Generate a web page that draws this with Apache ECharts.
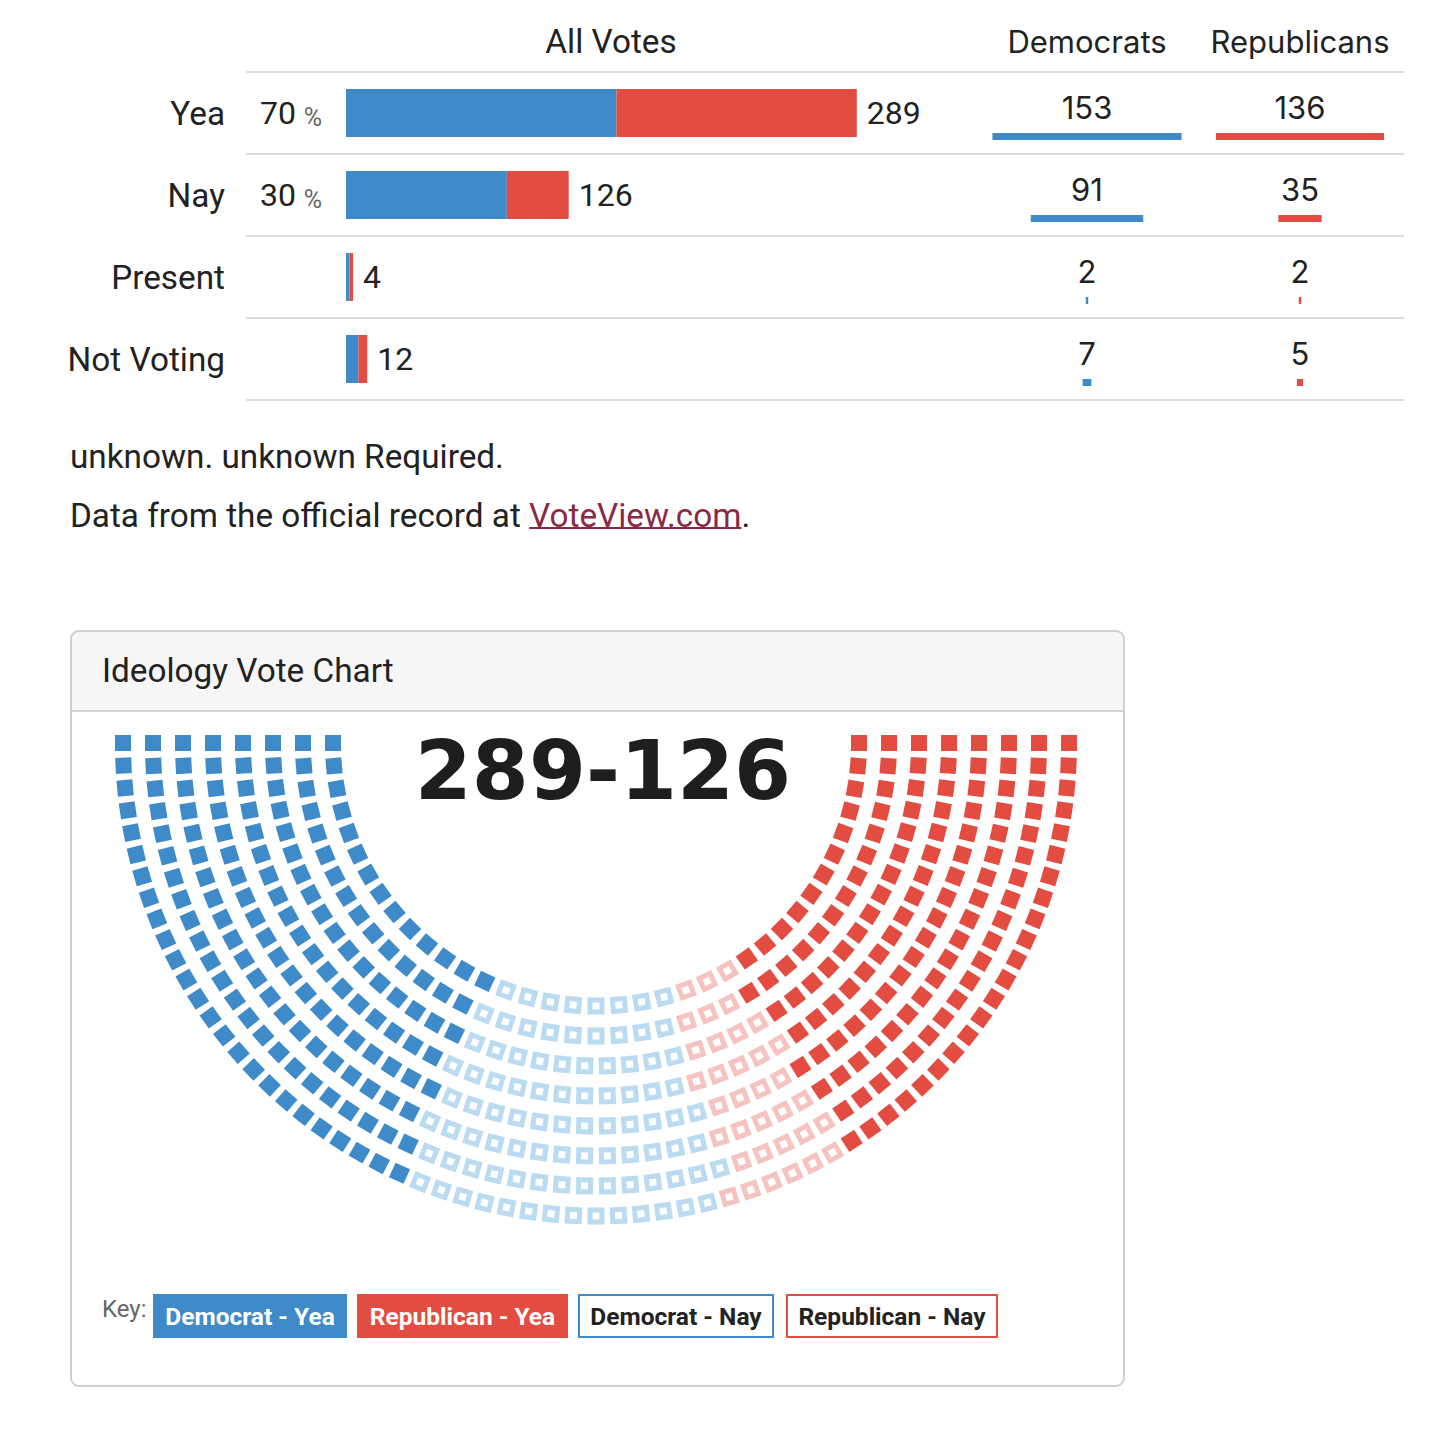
<!DOCTYPE html>
<html>
<head>
<meta charset="utf-8">
<title>Roll call</title>
<script src="https://cdn.jsdelivr.net/npm/echarts@6/dist/echarts.min.js"></script>
<style>
  html, body { margin: 0; padding: 0; background: #fff; }
  #page { width: 1452px; height: 1438px; }
</style>
</head>
<body>
<div id="page"></div>
<script>
// vote table
const rowNames = ['Yea', 'Nay', 'Present', 'Not Voting']
const demVotes = [153, 91, 2, 7]
const repVotes = [136, 35, 2, 5]
const totalVotes = [289, 126, 4, 12]
const pctLabels = ['70', '30', '', '']

// ideology chart
const seatGroups = ['Democrat - Yea', 'Democrat - Nay', 'Republican - Nay', 'Republican - Yea']
const seatCounts = [153, 91, 35, 136]
const scoreText = '289-126'

const BLUE = '#3f8bc9'
const RED = '#e34c41'
const LIGHT_BLUE = '#badbf0'
const LIGHT_RED = '#f5c4c0'
const INK = '#222'
const BODY_FONT = 'Roboto'
const BODY_SIZE = 33.3

const chart = echarts.init(document.getElementById('page'), null, { renderer: 'svg' })

// text width helper, so the link and the full stop follow the sentence
const measureCtx = document.createElement('canvas').getContext('2d')
const textWidth = (s, size, family) => {
  measureCtx.font = `${size}px ${family}`
  return measureCtx.measureText(s).width
}

// seat layout: 8 rows, seats per row proportional to radius, then sorted by angle
const rowRadii = []
for (let i = 0; i < 8; i++) rowRadii.push(263 + 30 * i)

const buildSeats = () => {
  const total = seatCounts.reduce((a, b) => a + b, 0)
  const rSum = rowRadii.reduce((a, b) => a + b, 0)
  const raw = rowRadii.map(r => total * r / rSum)
  const perRow = raw.map(Math.floor)
  let left = total - perRow.reduce((a, b) => a + b, 0)
  raw.map((v, i) => [v - Math.floor(v), i])
    .sort((a, b) => b[0] - a[0])
    .forEach(([, i]) => { if (left > 0) { perRow[i]++; left-- } })

  const seats = []
  rowRadii.forEach((r, row) => {
    const n = perRow[row]
    for (let j = 0; j < n; j++) seats.push({ r, a: 180 * j / (n - 1), row })
  })
  seats.sort((p, q) => p.a - q.a || p.row - q.row)

  // hand out seats group by group
  const groups = seatCounts.map(() => [])
  let g = 0, used = 0
  seats.forEach(s => {
    while (used >= seatCounts[g]) { g++; used = 0 }
    groups[g].push({ value: [s.r, s.a], symbolRotate: s.a })
    used++
  })
  return groups
}
const seatData = buildSeats()

const seatStyles = [
  { color: BLUE },
  { color: '#fff', borderColor: LIGHT_BLUE, borderWidth: 5 },
  { color: '#fff', borderColor: LIGHT_RED, borderWidth: 5 },
  { color: RED }
]

// centred party bars with the count above them
const partyItem = (color) => (params, api) => {
  const v = api.value(0)
  const c = api.coord([0, api.value(1)])
  const w = api.size([v, 0])[0]
  return {
    type: 'group',
    children: [
      { type: 'rect', shape: { x: c[0] - w / 2, y: c[1] + 20, width: w, height: 7 }, style: { fill: color } },
      {
        type: 'text',
        style: {
          text: String(v), x: c[0], y: c[1] - 6,
          align: 'center', verticalAlign: 'middle',
          fontSize: 31, fontFamily: 'Inter', fill: INK
        }
      }
    ]
  }
}

const hidden = { show: false }
const catAxis = (gridIndex) => ({
  type: 'category', gridIndex, inverse: true, data: rowNames,
  axisLine: hidden, axisTick: hidden, axisLabel: hidden, splitLine: hidden
})

const rowLines = [72, 154, 236, 318, 400].map(y => ({
  type: 'line', shape: { x1: 246, y1: y, x2: 1404, y2: y },
  style: { stroke: '#dddddd', lineWidth: 2 }
}))

const txt = (text, x, y, opts) => ({
  type: 'text', x, y,
  style: Object.assign({
    text, fill: INK, fontSize: BODY_SIZE, fontFamily: BODY_FONT,
    align: 'left', textAlign: 'left', verticalAlign: 'middle', textVerticalAlign: 'middle'
  }, opts || {})
})

const keyBox = (label, x, w, fill, stroke) => [
  {
    type: 'rect', shape: { x, y: 1295, width: w, height: 42 },
    style: { fill, stroke: stroke || fill, lineWidth: 2 }
  },
  txt(label, x + w / 2, 1316, {
    align: 'center', textAlign: 'center', fontSize: 24.5, fontWeight: 'bold',
    fill: stroke ? INK : '#fff'
  })
]

const lead = 'Data from the official record at '
const linkText = 'VoteView.com'
const linkX = 70 + textWidth(lead, BODY_SIZE, BODY_FONT)
const linkW = textWidth(linkText, BODY_SIZE, BODY_FONT)

const option = {
  animation: false,
  grid: [
    { left: 346, top: 72, width: 707, height: 328 },
    { left: 963.4, top: 72, width: 247.2, height: 328 },
    { left: 1176.4, top: 72, width: 247.2, height: 328 }
  ],
  xAxis: [
    { type: 'value', gridIndex: 0, min: 0, max: 400, show: false },
    { type: 'value', gridIndex: 1, min: -100, max: 100, show: false },
    { type: 'value', gridIndex: 2, min: -100, max: 100, show: false }
  ],
  yAxis: [
    {
      type: 'category', gridIndex: 0, inverse: true, data: rowNames,
      axisLine: hidden, axisTick: hidden, splitLine: hidden,
      axisLabel: {
        margin: 24,
        formatter: (name, i) => pctLabels[i]
          ? `{n|${name}}{p|${pctLabels[i]}}{u|%}`
          : `{n|${name}}{s| }`,
        rich: {
          n: { fontSize: BODY_SIZE, color: INK, fontFamily: BODY_FONT },
          p: { fontSize: 32, color: INK, fontFamily: BODY_FONT, width: 71, align: 'right' },
          u: { fontSize: 25, color: '#666', fontFamily: BODY_FONT, width: 26, align: 'right', verticalAlign: 'bottom' },
          s: { fontSize: BODY_SIZE, width: 97 }
        }
      }
    },
    catAxis(1),
    catAxis(2)
  ],
  polar: { center: [596, 743], radius: 500 },
  angleAxis: { type: 'value', min: 0, max: 360, startAngle: 180, clockwise: false, show: false },
  radiusAxis: { type: 'value', min: 0, max: 500, show: false },
  series: [
    {
      name: 'Democrats', type: 'bar', stack: 'all', barWidth: 48,
      xAxisIndex: 0, yAxisIndex: 0, data: demVotes, itemStyle: { color: BLUE }
    },
    {
      name: 'Republicans', type: 'bar', stack: 'all', barWidth: 48,
      xAxisIndex: 0, yAxisIndex: 0, data: repVotes, itemStyle: { color: RED },
      label: {
        show: true, position: 'right', distance: 10,
        formatter: p => totalVotes[p.dataIndex],
        fontSize: 32, color: INK, fontFamily: BODY_FONT
      }
    },
    {
      type: 'custom', xAxisIndex: 1, yAxisIndex: 1,
      data: demVotes.map((v, i) => [v, i]), renderItem: partyItem(BLUE)
    },
    {
      type: 'custom', xAxisIndex: 2, yAxisIndex: 2,
      data: repVotes.map((v, i) => [v, i]), renderItem: partyItem(RED)
    },
    ...seatGroups.map((name, i) => ({
      name, type: 'scatter', coordinateSystem: 'polar',
      symbol: 'rect', symbolSize: i === 1 || i === 2 ? 12 : 16,
      itemStyle: Object.assign({ opacity: 1 }, seatStyles[i]),
      data: seatData[i]
    }))
  ],
  graphic: [
    ...rowLines,
    txt('All Votes', 611, 41, { align: 'center', textAlign: 'center' }),
    txt('Democrats', 1087, 41, { align: 'center', textAlign: 'center', fontFamily: 'Inter', fontSize: 31 }),
    txt('Republicans', 1300, 41, { align: 'center', textAlign: 'center', fontFamily: 'Inter', fontSize: 31 }),
    txt('unknown. unknown Required.', 70, 456),
    txt(lead, 70, 515),
    txt(linkText, linkX, 515, { fill: '#8a2a45' }),
    txt('.', linkX + linkW, 515),
    {
      type: 'line', shape: { x1: linkX, y1: 528, x2: linkX + linkW, y2: 528 },
      style: { stroke: '#8a2a45', lineWidth: 2 }
    },
    // panel
    {
      type: 'rect', shape: { x: 71, y: 631, width: 1053, height: 80, r: [8, 8, 0, 0] },
      style: { fill: '#f6f6f6' }
    },
    { type: 'line', shape: { x1: 71, y1: 711, x2: 1124, y2: 711 }, style: { stroke: '#d4d4d4', lineWidth: 2 } },
    {
      type: 'rect', shape: { x: 71, y: 631, width: 1053, height: 755, r: 8 },
      style: { fill: 'none', stroke: '#cfcfcf', lineWidth: 2 }
    },
    txt('Ideology Vote Chart', 102, 670),
    txt(scoreText, 603, 770, {
      align: 'center', textAlign: 'center', fontFamily: 'DejaVu Sans',
      fontWeight: 'bold', fontSize: 82, fill: '#1e1e1e'
    }),
    txt('Key:', 102, 1309, { fontSize: 24, fill: '#666' }),
    ...keyBox('Democrat - Yea', 154, 192, BLUE),
    ...keyBox('Republican - Yea', 358, 209, RED),
    ...keyBox('Democrat - Nay', 579, 194, '#fff', BLUE),
    ...keyBox('Republican - Nay', 787, 210, '#fff', RED)
  ]
}

chart.setOption(option)
</script>
</body>
</html>
